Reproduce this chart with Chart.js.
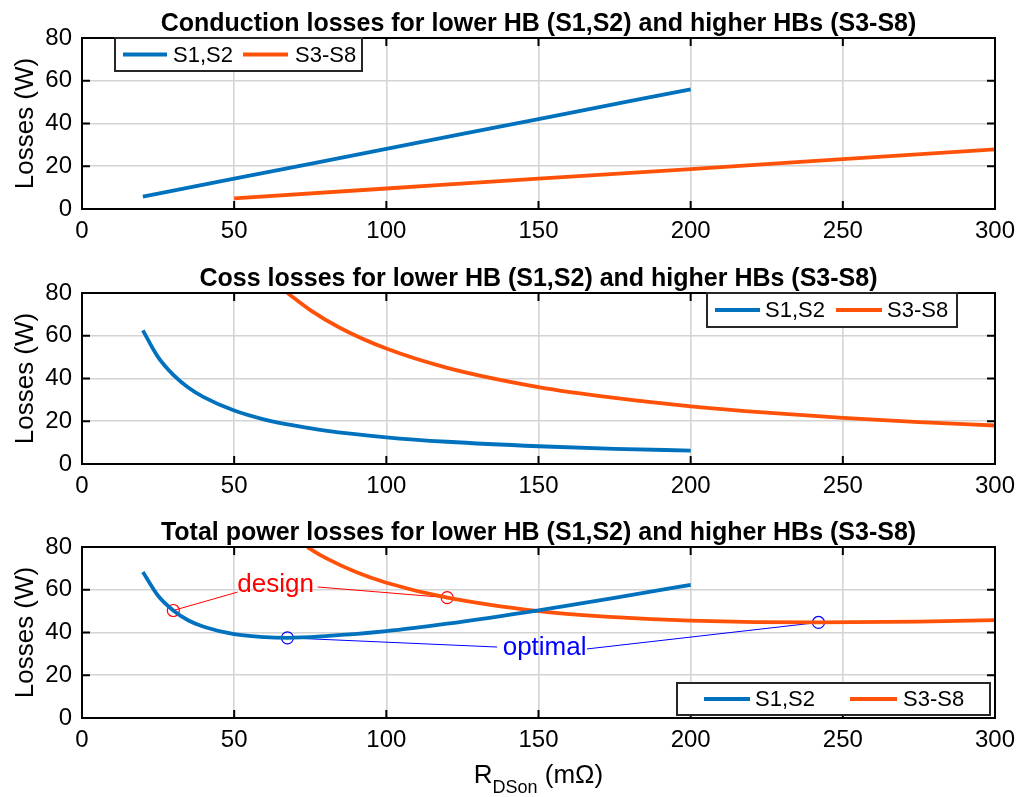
<!DOCTYPE html>
<html>
<head>
<meta charset="utf-8">
<script src="https://cdn.jsdelivr.net/npm/chart.js@4.4.0/dist/chart.umd.min.js"></script>
<style>
    body { margin: 0; background: #fff; }
    .panel { position: absolute; left: 0; }
</style>
</head>
<body>
<canvas id="id_grafica_1" class="panel" width="1017" height="255" style="top:0px"></canvas>
<canvas id="id_grafica_2" class="panel" width="1017" height="255" style="top:255px"></canvas>
<canvas id="id_grafica_3" class="panel" width="1017" height="288" style="top:509px"></canvas>
<script>
//------------------------DATOS---------------------------
const xTicks = [0, 50, 100, 150, 200, 250, 300];
const yTicks = [0, 20, 40, 60, 80];
const seriesNames = ['S1,S2', 'S3-S8'];

// perdidas de conduccion
const condX_S12 = [20, 50, 100, 150, 200];
const condY_S12 = [5.8, 14.2, 28.1, 42.1, 56.0];
const condX_S38 = [50, 100, 150, 200, 250, 300];
const condY_S38 = [5.0, 9.6, 14.2, 18.7, 23.3, 27.9];

// perdidas Coss
const cossX_S12 = [20, 25, 30, 35, 40, 50, 60, 70, 80, 100, 120, 150, 175, 200];
const cossY_S12 = [62.5, 50, 41.7, 35.7, 31.3, 25, 20.8, 17.9, 15.6, 12.5, 10.4, 8.3, 7.1, 6.3];
const cossX_S38 = [67.5, 75, 85, 100, 120, 150, 175, 200, 225, 250, 275, 300];
const cossY_S38 = [80, 72, 63.5, 54, 45, 36, 30.9, 27, 24, 21.6, 19.6, 18];

// perdidas totales
const totX_S12 = [20, 25, 30, 35, 40, 50, 60, 67.5, 80, 100, 120, 150, 175, 200];
const totY_S12 = [68.3, 57.2, 50.3, 45.6, 42.7, 39.2, 37.8, 37.5, 38.3, 40.6, 44.1, 50.4, 56.2, 62.3];
const totX_S38 = [74, 80, 90, 100, 120, 150, 175, 200, 242, 275, 300];
const totY_S38 = [79.9, 74.9, 68.3, 63.3, 56.3, 50.0, 47.2, 45.6, 44.7, 45.1, 45.8];

// puntos marcados (design / optimal)
const designX = [30, 120];
const designY = [50.3, 56.3];
const optimalX = [67.5, 242];
const optimalY = [37.5, 44.7];

// lineas de anotacion punto -> texto
const designLead1X = [30, 51.1];
const designLead1Y = [50.3, 58.9];
const designLead2X = [77.4, 120];
const designLead2Y = [61.3, 56.3];
const optimalLead1X = [67.5, 136.4];
const optimalLead1Y = [37.5, 33.2];
const optimalLead2X = [165.9, 242];
const optimalLead2Y = [32.3, 44.7];

const annotTexts = ['design', 'optimal'];
const annotX = [63.6, 152];
const annotY = [58.9, 29.5];

//------------------------ESTILOS---------------------------
const FONT = "'Liberation Sans', Arial, Helvetica, sans-serif";
const AZUL = '#0072BD';
const NARANJA = '#FF5208';
const ROJO = '#FF0000';
const AZUL_ANOT = '#0000FF';

const toPoints = (xs, ys) => xs.map((x, i) => ({ x: x, y: ys[i] }));

const curva = (label, xs, ys, color) => ({
    label: label,
    data: toPoints(xs, ys),
    borderColor: color,
    backgroundColor: color,
    borderWidth: 3.8,
    pointRadius: 0,
    cubicInterpolationMode: 'monotone',
    enLeyenda: true
});

const guia = (xs, ys, color) => ({
    data: toPoints(xs, ys),
    borderColor: color,
    borderWidth: 1,
    pointRadius: 0,
    tension: 0
});

const circulos = (xs, ys, color) => ({
    data: toPoints(xs, ys),
    showLine: false,
    pointRadius: 6,
    pointBorderWidth: 1.2,
    pointBorderColor: color,
    pointBackgroundColor: 'rgba(0,0,0,0)'
});

//------------------------PLUGINS---------------------------
// titulo centrado sobre el area del grafico
const tituloPlugin = {
    id: 'tituloArea',
    afterDraw(chart, args, opts) {
        const { ctx, chartArea: a } = chart;
        ctx.save();
        ctx.fillStyle = '#000';
        ctx.font = 'bold 25px ' + FONT;
        ctx.textAlign = 'center';
        ctx.textBaseline = 'alphabetic';
        ctx.fillText(opts.text, (a.left + a.right) / 2, a.top - 7);
        ctx.restore();
    }
};

// marco negro con ticks hacia dentro (estilo matlab)
const marcoPlugin = {
    id: 'marco',
    afterDatasetsDraw(chart) {
        const { ctx, chartArea: a, scales } = chart;
        ctx.save();
        ctx.strokeStyle = '#000';
        ctx.lineWidth = 2;
        ctx.strokeRect(a.left, a.top, a.right - a.left, a.bottom - a.top);
        ctx.beginPath();
        xTicks.forEach(v => {
            const px = scales.x.getPixelForValue(v);
            ctx.moveTo(px, a.bottom); ctx.lineTo(px, a.bottom - 8);
            ctx.moveTo(px, a.top); ctx.lineTo(px, a.top + 8);
        });
        yTicks.forEach(v => {
            const py = scales.y.getPixelForValue(v);
            ctx.moveTo(a.left, py); ctx.lineTo(a.left + 8, py);
            ctx.moveTo(a.right, py); ctx.lineTo(a.right - 8, py);
        });
        ctx.stroke();
        ctx.restore();
    }
};

// textos de anotacion en coordenadas de datos
const textosPlugin = {
    id: 'textos',
    afterDatasetsDraw(chart, args, opts) {
        if (!opts.items) return;
        const { ctx, scales } = chart;
        ctx.save();
        ctx.font = '26px ' + FONT;
        ctx.textAlign = 'center';
        ctx.textBaseline = 'alphabetic';
        opts.items.forEach(it => {
            ctx.fillStyle = it.color;
            ctx.fillText(it.text, scales.x.getPixelForValue(it.x), scales.y.getPixelForValue(it.y));
        });
        ctx.restore();
    }
};

// leyenda en caja dentro del area
const leyendaPlugin = {
    id: 'leyendaCaja',
    afterDraw(chart, args, opts) {
        const { ctx } = chart;
        const sets = chart.data.datasets.filter(d => d.enLeyenda);
        ctx.save();
        ctx.fillStyle = '#fff';
        ctx.fillRect(opts.x, opts.y, opts.w, opts.h);
        ctx.strokeStyle = '#262626';
        ctx.lineWidth = 2;
        ctx.strokeRect(opts.x, opts.y, opts.w, opts.h);
        const cy = opts.y + opts.h / 2;
        ctx.font = '22px ' + FONT;
        ctx.textBaseline = 'middle';
        ctx.textAlign = 'left';
        sets.forEach((d, i) => {
            const it = opts.items[i];
            ctx.strokeStyle = d.borderColor;
            ctx.lineWidth = 3.8;
            ctx.beginPath();
            ctx.moveTo(it[0], cy);
            ctx.lineTo(it[1], cy);
            ctx.stroke();
            ctx.fillStyle = '#000';
            ctx.fillText(d.label, it[2], cy + 1);
        });
        ctx.restore();
    }
};

// titulo del eje x con subindice
const tituloXPlugin = {
    id: 'tituloX',
    afterDraw(chart, args, opts) {
        if (!opts.show) return;
        const { ctx, chartArea: a } = chart;
        const big = '26px ' + FONT;
        const small = '18px ' + FONT;
        ctx.save();
        ctx.fillStyle = '#000';
        ctx.textBaseline = 'alphabetic';
        ctx.font = big;
        const wR = ctx.measureText('R').width;
        const wU = ctx.measureText(' (m\u03A9)').width;
        ctx.font = small;
        const wS = ctx.measureText('DSon').width;
        const total = wR + wS + wU;
        let x = (a.left + a.right) / 2 - total / 2;
        const base = opts.baseline;
        ctx.font = big;
        ctx.fillText('R', x, base);
        x += wR;
        ctx.font = small;
        ctx.fillText('DSon', x, base + 10);
        x += wS;
        ctx.font = big;
        ctx.fillText(' (m\u03A9)', x, base);
        ctx.restore();
    }
};

//------------------------GENERACION DE GRAFICAS---------------------------
const crearGrafica = (idCanvas, titulo, datasets, leyenda, altoEjeX, extra) => {
    const ctx = document.getElementById(idCanvas).getContext('2d');
    return new Chart(ctx, {
        type: 'line',
        data: { datasets: datasets },
        plugins: [marcoPlugin, textosPlugin, leyendaPlugin, tituloXPlugin, tituloPlugin],
        options: {
            responsive: false,
            animation: false,
            devicePixelRatio: 1,
            layout: { padding: { left: 0, right: 22, top: 38, bottom: 0 } },
            plugins: {
                legend: { display: false },
                tooltip: { enabled: false },
                title: { display: false },
                tituloArea: { text: titulo },
                leyendaCaja: leyenda,
                textos: { items: extra.textos || null },
                tituloX: { show: !!extra.tituloX, baseline: 274 }
            },
            scales: {
                x: {
                    type: 'linear',
                    min: 0,
                    max: 300,
                    afterBuildTicks: axis => { axis.ticks = xTicks.map(v => ({ value: v })); },
                    afterFit: s => { s.height = altoEjeX; s.paddingRight = 0; s.paddingLeft = 0; },
                    ticks: { color: '#000', font: { family: FONT, size: 24 }, padding: 8, maxRotation: 0 },
                    grid: { color: '#d4d4d4', lineWidth: 1.6, drawTicks: false },
                    border: { display: false }
                },
                y: {
                    min: 0,
                    max: 80,
                    afterBuildTicks: axis => { axis.ticks = yTicks.map(v => ({ value: v })); },
                    afterFit: s => { s.width = 82; },
                    ticks: { color: '#000', font: { family: FONT, size: 24 }, padding: 10 },
                    grid: { color: '#d4d4d4', lineWidth: 1.6, drawTicks: false },
                    border: { display: false },
                    title: {
                        display: true,
                        text: 'Losses (W)',
                        color: '#000',
                        font: { family: FONT, size: 26 },
                        padding: { top: 10, bottom: 0 }
                    }
                }
            }
        }
    });
};

const chart1 = crearGrafica('id_grafica_1',
    'Conduction losses for lower HB (S1,S2) and higher HBs (S3-S8)',
    [curva(seriesNames[0], condX_S12, condY_S12, AZUL), curva(seriesNames[1], condX_S38, condY_S38, NARANJA)],
    { x: 115, y: 38, w: 247, h: 33, items: [[123, 167, 173], [243, 288, 295]] },
    46, {});

const chart2 = crearGrafica('id_grafica_2',
    'Coss losses for lower HB (S1,S2) and higher HBs (S3-S8)',
    [curva(seriesNames[0], cossX_S12, cossY_S12, AZUL), curva(seriesNames[1], cossX_S38, cossY_S38, NARANJA)],
    { x: 707, y: 38, w: 250, h: 34, items: [[715, 760, 765], [836, 882, 887]] },
    46, {});

const chart3 = crearGrafica('id_grafica_3',
    'Total power losses for lower HB (S1,S2) and higher HBs (S3-S8)',
    [
        curva(seriesNames[0], totX_S12, totY_S12, AZUL),
        curva(seriesNames[1], totX_S38, totY_S38, NARANJA),
        guia(designLead1X, designLead1Y, ROJO),
        guia(designLead2X, designLead2Y, ROJO),
        guia(optimalLead1X, optimalLead1Y, AZUL_ANOT),
        guia(optimalLead2X, optimalLead2Y, AZUL_ANOT),
        circulos(designX, designY, ROJO),
        circulos(optimalX, optimalY, AZUL_ANOT)
    ],
    { x: 677, y: 174, w: 313, h: 32, items: [[704, 750, 755], [850, 897, 903]] },
    79,
    {
        tituloX: true,
        textos: [
            { text: annotTexts[0], x: annotX[0], y: annotY[0], color: ROJO },
            { text: annotTexts[1], x: annotX[1], y: annotY[1], color: AZUL_ANOT }
        ]
    });
</script>
</body>
</html>
